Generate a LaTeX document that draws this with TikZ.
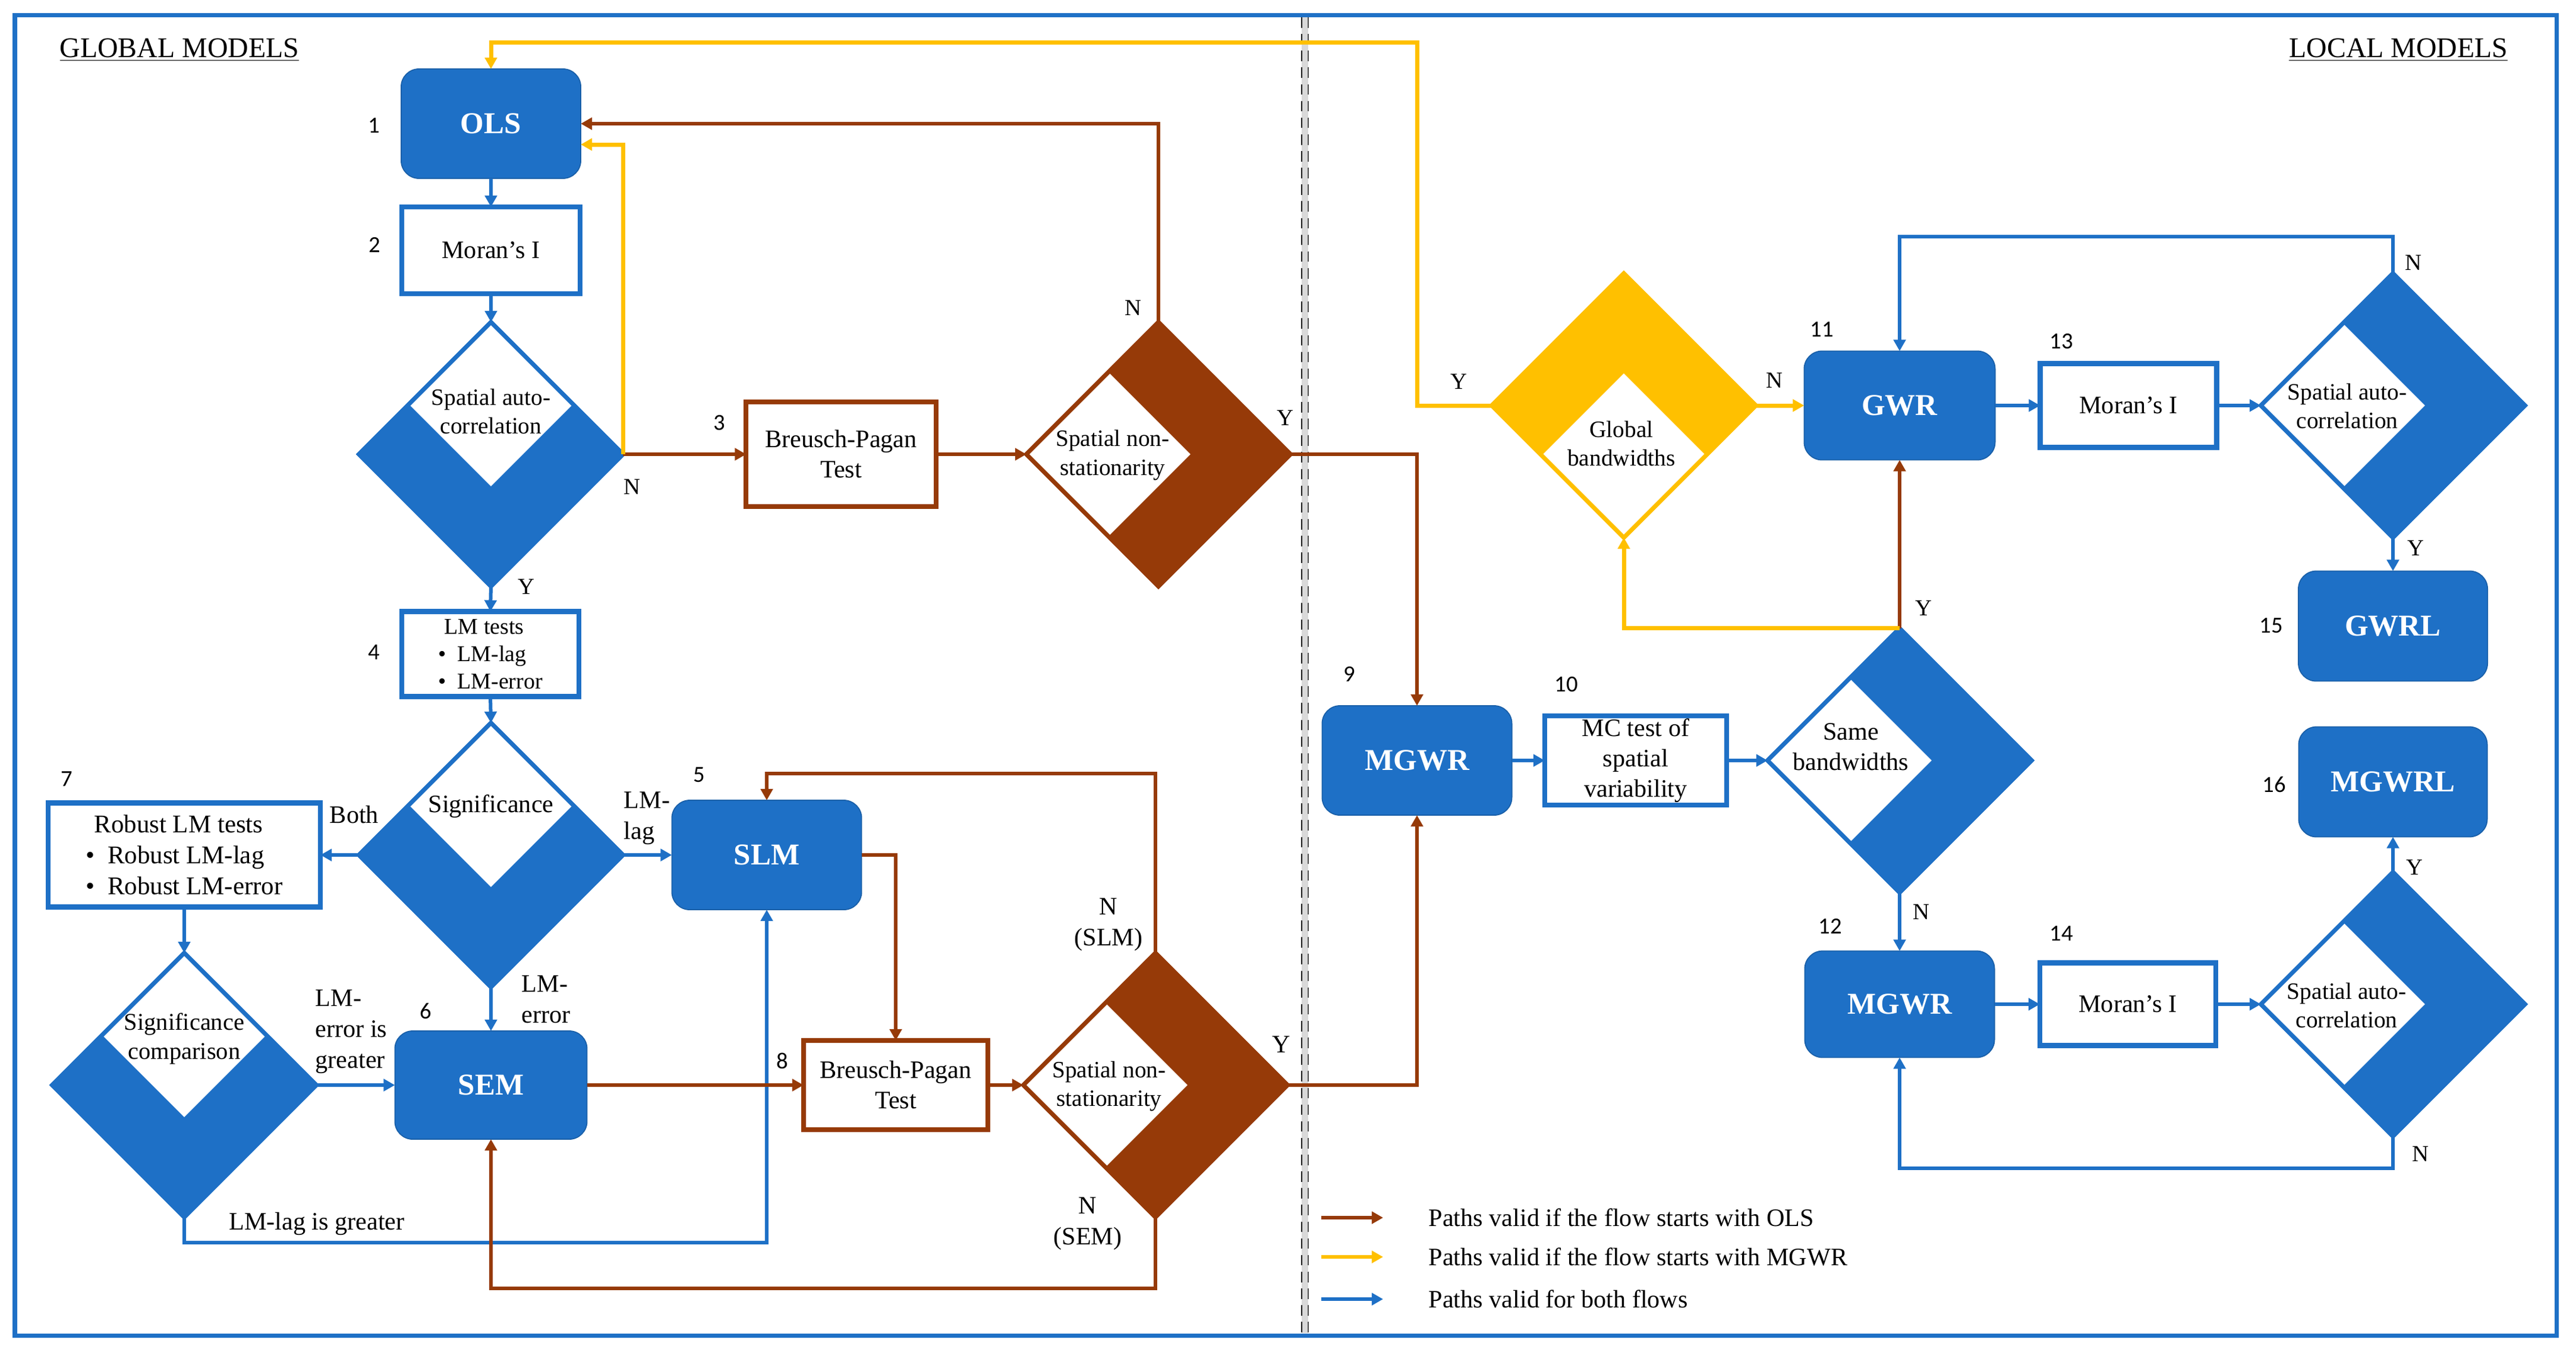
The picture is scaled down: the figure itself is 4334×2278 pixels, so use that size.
\documentclass[tikz,border=0pt]{standalone}
\usepackage{fontspec}
\setmainfont{Liberation Serif}
\newfontfamily\numfont{Carlito}
\usetikzlibrary{shapes.geometric,arrows.meta,calc}
\definecolor{cblue}{RGB}{30,112,198}
\definecolor{cbrown}{RGB}{150,58,8}
\definecolor{cyellow}{RGB}{255,192,0}
\newcommand{\diaTop}[3]{%
  \fill[white] (#1.north) -- ++(#3,#3) -- ++(-#3,#3) -- ++(-#3,-#3) -- cycle;
  \draw[#2,line width=0.07cm,line join=miter] (#1.north) -- (#1.east) -- (#1.south) -- (#1.west) -- cycle;}
\newcommand{\diaLeft}[3]{%
  \fill[white] (#1.west) -- ++(#3,-#3) -- ++(#3,#3) -- ++(-#3,#3) -- cycle;
  \draw[#2,line width=0.07cm,line join=miter] (#1.north) -- (#1.east) -- (#1.south) -- (#1.west) -- cycle;}
\newcommand{\diaBot}[3]{%
  \fill[white] (#1.south) -- ++(#3,-#3) -- ++(-#3,-#3) -- ++(-#3,#3) -- cycle;
  \draw[#2,line width=0.07cm,line join=miter] (#1.north) -- (#1.east) -- (#1.south) -- (#1.west) -- cycle;}
\begin{document}
\begin{tikzpicture}[x=0.01cm,y=-0.01cm,
  bbox/.style={rectangle, rounded corners=0.3cm, fill=cblue, draw=cblue!85!black, line width=0.5pt,
    text=white, font=\fontsize{14.5}{17}\selectfont\bfseries, inner sep=0pt, outer sep=0pt},
  wbox/.style={rectangle, draw=cblue, fill=white, line width=0.085cm,
    font=\fontsize{12}{14.5}\selectfont, align=center, inner sep=0pt, outer sep=0pt},
  bpbox/.style={wbox, draw=cbrown, line width=0.08cm},
  dia/.style={diamond, minimum width=4.44cm, minimum height=4.44cm, inner sep=0pt, outer sep=0pt, line width=0.07cm},
  dtext/.style={font=\fontsize{11.2}{13.9}\selectfont, align=center, inner sep=0pt},
  yn/.style={font=\fontsize{11}{13}\selectfont, inner sep=0pt},
  lab/.style={font=\fontsize{12}{14.8}\selectfont, inner sep=0pt, align=left},
  num/.style={font=\numfont\fontsize{11}{13}\selectfont, inner sep=0pt},
  con/.style={line width=0.06cm, -{Triangle[length=0.19cm,width=0.2cm]}},
  blu/.style={con, draw=cblue},
  brn/.style={con, draw=cbrown},
  yel/.style={con, draw=cyellow, line width=0.07cm}]
\useasboundingbox (0,0) rectangle (4334,2278);

% frame and divider
\draw[cblue, line width=0.07cm] (25,25) rectangle (4301,2246);
\fill[gray!30] (2190,29) rectangle (2201,2242);
\draw[black, dashed, line width=0.6pt, dash pattern=on 5pt off 3pt] (2190,29) -- (2190,2242);
\draw[black!70, dashed, line width=0.5pt, dash pattern=on 5pt off 3pt] (2201,29) -- (2201,2242);

% headings
\node[anchor=base west, inner sep=0pt, font=\fontsize{13.6}{16}\selectfont] (hg) at (100,96) {\underline{GLOBAL MODELS}};
\node[anchor=base east, inner sep=0pt, font=\fontsize{13.6}{16}\selectfont] (hl) at (4220,96) {\underline{LOCAL MODELS}};

% ---------- global models ----------
\node[bbox, minimum width=3.02cm, minimum height=1.84cm] (ols) at (826,208) {OLS};
\node[wbox, minimum width=3.0cm, minimum height=1.46cm] (mor1) at (826,421) {Moran’s I};
\node[dia, fill=cblue, draw=cblue] (d1) at (826,764) {};
\diaTop{d1}{cblue}{138}
\node[dtext] (d1t) at (826,692) {Spatial auto-\\correlation};

\node[bpbox, minimum width=3.19cm, minimum height=1.76cm] (bp1) at (1415,764) {Breusch-Pagan\\Test};
\node[dia, fill=cbrown, draw=cbrown] (d2) at (1949,764) {};
\diaLeft{d2}{cbrown}{138}
\node[dtext] (d2t) at (1872,766) {Spatial non-\\stationarity};

\node[wbox, minimum width=2.98cm, minimum height=1.43cm, align=left,
  font=\fontsize{10.8}{13.1}\selectfont] (lm) at (825,1100) {\hspace{3pt}LM tests\\\textbullet\hspace{0.5em}LM-lag\\\textbullet\hspace{0.5em}LM-error};
\node[dia, fill=cblue, draw=cblue] (d3) at (826,1438) {};
\diaTop{d3}{cblue}{138}
\node[dtext, font=\fontsize{12}{14.5}\selectfont] (d3t) at (826,1356) {Significance};

\node[wbox, minimum width=4.58cm, minimum height=1.75cm, align=left,
  font=\fontsize{12.2}{14.8}\selectfont] (rob) at (310,1438) {\hspace{4pt}Robust LM tests\\\textbullet\hspace{0.5em}Robust LM-lag\\\textbullet\hspace{0.5em}Robust LM-error};
\node[dia, fill=cblue, draw=cblue] (d4) at (310,1825) {};
\diaTop{d4}{cblue}{138}
\node[dtext, font=\fontsize{11.5}{13.8}\selectfont] (d4t) at (310,1747) {Significance\\comparison};

\node[bbox, minimum width=3.23cm, minimum height=1.82cm] (sem) at (826,1825) {SEM};
\node[bbox, minimum width=3.19cm, minimum height=1.84cm] (slm) at (1290,1438) {SLM};
\node[bpbox, minimum width=3.10cm, minimum height=1.50cm] (bp2) at (1507,1825) {Breusch-Pagan\\Test};
\node[dia, fill=cbrown, draw=cbrown] (d5) at (1944,1825) {};
\diaLeft{d5}{cbrown}{138}
\node[dtext] (d5t) at (1866,1827) {Spatial non-\\stationarity};

% ---------- local models ----------
\node[bbox, minimum width=3.19cm, minimum height=1.84cm] (mgwr9) at (2384,1279) {MGWR};
\node[wbox, minimum width=3.06cm, minimum height=1.50cm] (mc) at (2752,1279) {MC test of\\spatial\\variability};
\node[dia, fill=cblue, draw=cblue] (d6) at (3196,1279) {};
\diaLeft{d6}{cblue}{138}
\node[dtext, font=\fontsize{12}{14.5}\selectfont] (d6t) at (3114,1256) {Same\\bandwidths};

\node[dia, fill=cyellow, draw=cyellow] (gb) at (2732,682) {};
\diaBot{gb}{cyellow}{138}
\node[dtext] (gbt) at (2728,746) {Global\\bandwidths};

\node[bbox, minimum width=3.21cm, minimum height=1.83cm] (gwr) at (3196,682) {GWR};
\node[wbox, minimum width=2.97cm, minimum height=1.41cm] (mor13) at (3581,682) {Moran’s I};
\node[dia, fill=cblue, draw=cblue] (d7) at (4026,682) {};
\diaLeft{d7}{cblue}{138}
\node[dtext] (d7t) at (3949,683) {Spatial auto-\\correlation};
\node[bbox, minimum width=3.18cm, minimum height=1.85cm] (gwrl) at (4026,1053) {GWRL};

\node[bbox, minimum width=3.19cm, minimum height=1.79cm] (mgwr12) at (3196,1689) {MGWR};
\node[wbox, minimum width=2.96cm, minimum height=1.39cm] (mor14) at (3580,1689) {Moran’s I};
\node[dia, fill=cblue, draw=cblue] (d8) at (4026,1689) {};
\diaLeft{d8}{cblue}{138}
\node[dtext] (d8t) at (3948,1691) {Spatial auto-\\correlation};
\node[bbox, minimum width=3.17cm, minimum height=1.85cm] (mgwrl) at (4026,1315) {MGWRL};

% ---------- number labels ----------
\node[num] (n1) at (629,211) {1};
\node[num] (n2) at (630,412) {2};
\node[num] (n3) at (1210,711) {3};
\node[num] (n4) at (629,1097) {4};
\node[num] (n5) at (1176,1303) {5};
\node[num] (n6) at (716,1701) {6};
\node[num] (n7) at (112,1310) {7};
\node[num] (n8) at (1316,1784) {8};
\node[num] (n9) at (2270,1134) {9};
\node[num] (n10) at (2635,1151) {10};
\node[num] (n11) at (3065,554) {11};
\node[num] (n12) at (3079,1558) {12};
\node[num] (n13) at (3468,574) {13};
\node[num] (n14) at (3468,1570) {14};
\node[num] (n15) at (3821,1052) {15};
\node[num] (n16) at (3826,1320) {16};

% ---------- connectors: blue ----------
\draw[blu] (ols.south) -- (mor1.north);
\draw[blu] (mor1.south) -- (d1.north);
\draw[blu] (d1.south) -- (lm.north);
\draw[blu] (lm.south) -- (d3.north);
\draw[blu] (d3.west) -- (rob.east);
\draw[blu] (d3.east) -- (slm.west);
\draw[blu] (d3.south) -- (sem.north);
\draw[blu] (rob.south) -- (d4.north);
\draw[blu] (d4.east) -- (sem.west);
\draw[blu] (d4.south) -- ++(0,43) -| (slm.south);
\draw[blu] (mgwr9.east) -- (mc.west);
\draw[blu] (mc.east) -- (d6.west);
\draw[blu] (d6.south) -- (mgwr12.north);
\draw[blu] (gwr.east) -- (mor13.west);
\draw[blu] (mor13.east) -- (d7.west);
\draw[blu] (d7.south) -- (gwrl.north);
\draw[blu] (d7.north) -- ++(0,-62) -| (gwr.north);
\draw[blu] (mgwr12.east) -- (mor14.west);
\draw[blu] (mor14.east) -- (d8.west);
\draw[blu] (d8.north) -- (mgwrl.south);
\draw[blu] (d8.south) -- ++(0,54) -| (mgwr12.south);

% ---------- connectors: brown ----------
\draw[brn] (d1.east) -- (bp1.west);
\draw[brn] (bp1.east) -- (d2.west);
\draw[brn] (d2.north) |- (ols.east);
\draw[brn] (d2.east) -| (mgwr9.north);
\draw[brn] (sem.east) -- (bp2.west);
\draw[brn] (slm.east) -| (bp2.north);
\draw[brn] (bp2.east) -- (d5.west);
\draw[brn] (d5.north) -- ++(0,-302) -| (slm.north);
\draw[brn] (d5.south) -- ++(0,120) -| (sem.south);
\draw[brn] (d5.east) -| (mgwr9.south);
\draw[brn] (d6.north) -- (gwr.south);

% ---------- connectors: yellow ----------
\coordinate (yc) at (2384,71);
\draw[yel] (d1.east) |- ($(ols.east)+(0,35)$);
\draw[yel] (gb.west) -| (yc) -| (ols.north);
\draw[yel] (gb.east) -- (gwr.west);
\draw[yel] (d6.north) -| (gb.south);

% ---------- Y / N labels ----------
\node[yn] (y1) at (885,987) {Y};
\node[yn] (no1) at (1063,819) {N};
\node[yn] (no2) at (1906,518) {N};
\node[yn] (y2) at (2162,703) {Y};
\node[lab] (lboth) at (596,1370) {Both};
\node[lab, anchor=west] (llag) at (1049,1376) {LM-\\lag};
\node[lab, anchor=west] (lerr) at (877,1681) {LM-\\error};
\node[lab, anchor=west] (lerrg) at (530,1735) {LM-\\error is\\greater};
\node[lab] (llagg) at (533,2058) {LM-lag is greater};
\node[yn, align=center, font=\fontsize{12}{14.8}\selectfont] (nslm) at (1865,1555) {N\\(SLM)};
\node[yn, font=\fontsize{12}{14.8}\selectfont] (y5) at (2156,1757) {Y};
\node[yn, align=center, font=\fontsize{12}{14.8}\selectfont] (nsem) at (1830,2058) {N\\(SEM)};
\node[yn] (y6) at (3236,1023) {Y};
\node[yn] (no6) at (3232,1534) {N};
\node[yn] (ygb) at (2454,642) {Y};
\node[yn] (ngb) at (2985,640) {N};
\node[yn] (no7) at (4060,442) {N};
\node[yn] (y7) at (4064,922) {Y};
\node[yn] (y8) at (4062,1459) {Y};
\node[yn] (no8) at (4072,1941) {N};

% ---------- legend ----------
\coordinate (la1) at (2223,2048); \coordinate (lb1) at (2327,2048);
\coordinate (la2) at (2223,2114); \coordinate (lb2) at (2327,2114);
\coordinate (la3) at (2223,2185); \coordinate (lb3) at (2327,2185);
\draw[brn] (la1) -- (lb1);
\draw[yel, line width=0.06cm] (la2) -- (lb2);
\draw[blu] (la3) -- (lb3);
\node[lab, anchor=west] (lt1) at (2403,2048) {Paths valid if the flow starts with OLS};
\node[lab, anchor=west] (lt2) at (2403,2114) {Paths valid if the flow starts with MGWR};
\node[lab, anchor=west] (lt3) at (2403,2185) {Paths valid for both flows};
\end{tikzpicture}
\end{document}
